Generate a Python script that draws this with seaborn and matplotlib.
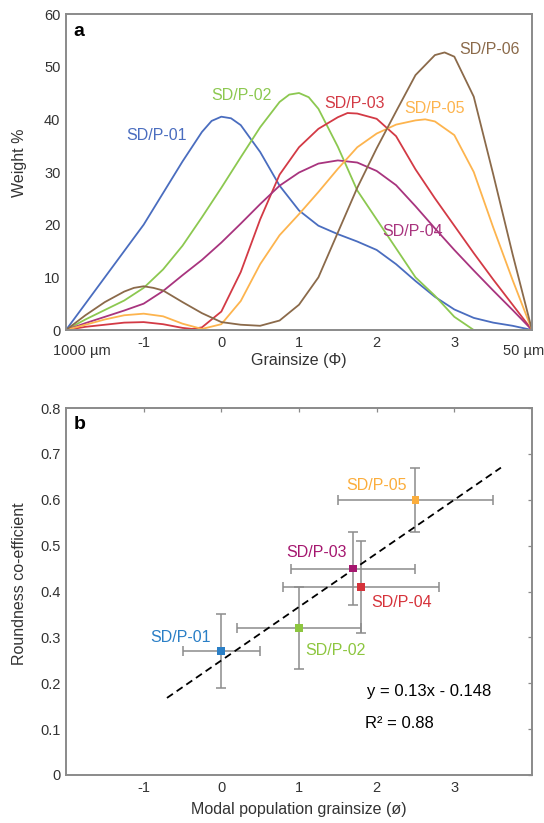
import numpy as np
import pandas as pd
import matplotlib
matplotlib.use("Agg")
import matplotlib.pyplot as plt
import matplotlib.transforms as mtransforms
import seaborn as sns

# panel a: grain size distributions, weight %
# (quarter-phi steps, plus a few extra readings around peaks and troughs)
phi_sdp01 = [-2, -1.75, -1.5, -1.25, -1, -0.75, -0.5, -0.25, -0.125, 0, 0.125, 0.25, 0.5, 0.75,
             1, 1.25, 1.5, 1.75, 2, 2.25, 2.5, 2.75, 3, 3.25, 3.5, 3.75, 4]
wt_sdp01 = [0, 5, 10, 15, 20, 26, 32, 37.6, 39.7, 40.5, 40.2, 38.9, 33.8, 27.4,
            22.7, 19.8, 18.2, 16.8, 15.2, 12.5, 9.3, 6.3, 3.9, 2.3, 1.4, 0.8, 0]
phi_sdp02 = [-2, -1.75, -1.5, -1.25, -1, -0.75, -0.5, -0.25, 0, 0.25, 0.5, 0.75, 0.875,
             1, 1.125, 1.25, 1.5, 1.75, 2, 2.25, 2.5, 2.75, 3, 3.25, 3.5, 3.75, 4]
wt_sdp02 = [0, 2, 3.8, 5.6, 8, 11.5, 16, 21.4, 27, 32.8, 38.5, 43.3, 44.7,
            45, 44.2, 42, 34.8, 26.5, 21, 15.5, 10, 6.5, 2.5, 0, 0, 0, 0]
phi_sdp03 = [-2, -1.75, -1.5, -1.25, -1, -0.75, -0.5, -0.375, -0.25, 0, 0.25, 0.5, 0.75,
             1, 1.25, 1.5, 1.625, 1.75, 2, 2.25, 2.5, 2.75, 3, 3.25, 3.5, 3.75, 4]
wt_sdp03 = [0, 0.6, 1.0, 1.4, 1.5, 1.1, 0.4, 0.2, 0.5, 3.5, 11, 21, 29.5,
            34.7, 38.2, 40.4, 41.2, 41.1, 40.1, 36.8, 30.5, 25, 19.8, 14.6, 9.6, 4.8, 0]
phi_sdp04 = [-2, -1.75, -1.5, -1.25, -1, -0.75, -0.5, -0.25, 0, 0.25, 0.5, 0.75,
             1, 1.25, 1.5, 1.75, 2, 2.25, 2.5, 2.75, 3, 3.25, 3.5, 3.75, 4]
wt_sdp04 = [0, 1.3, 2.5, 3.7, 5, 7.4, 10.4, 13.3, 16.6, 20.2, 23.9, 27.4,
            29.9, 31.6, 32.2, 31.8, 30.2, 27.5, 23.5, 19.3, 15.2, 11.3, 7.5, 3.8, 0]
phi_sdp05 = [-2, -1.75, -1.5, -1.25, -1, -0.75, -0.5, -0.25, 0, 0.25, 0.5, 0.75,
             1, 1.25, 1.5, 1.75, 2, 2.25, 2.5, 2.625, 2.75, 3, 3.25, 3.5, 3.75, 4]
wt_sdp05 = [0, 1.0, 2.0, 2.8, 3.1, 2.6, 1.2, 0.2, 1.1, 5.5, 12.5, 18,
            22, 26.2, 30.6, 34.7, 37.3, 39, 39.8, 40.0, 39.6, 37, 30, 19.5, 9.5, 0]
phi_sdp06 = [-2, -1.75, -1.5, -1.25, -1.125, -1, -0.875, -0.75, -0.5, -0.25, 0, 0.25, 0.5, 0.75,
             1, 1.25, 1.5, 1.75, 2, 2.25, 2.5, 2.75, 2.875, 3, 3.25, 3.5, 3.75, 4]
wt_sdp06 = [0, 2.8, 5.3, 7.3, 8.0, 8.3, 8.0, 7.5, 5.3, 3.2, 1.5, 1.0, 0.8, 1.8,
            4.8, 10, 18.5, 27, 34.5, 41.5, 48.4, 52.2, 52.7, 51.9, 44.3, 29.6, 14.4, 0]
curve_names = ["SD/P-01", "SD/P-02", "SD/P-03", "SD/P-04", "SD/P-05", "SD/P-06"]
curve_colors = ["#4a6dbf", "#8cc850", "#d33a45", "#a8347e", "#fdb44e", "#8b6a4a"]

# panel b: modal grainsize vs roundness
sample_names = ["SD/P-01", "SD/P-02", "SD/P-03", "SD/P-04", "SD/P-05"]
modal_phi = [0, 1, 1.7, 1.8, 2.5]
roundness = [0.27, 0.32, 0.45, 0.41, 0.60]
phi_err = [0.5, 0.8, 0.8, 1.0, 1.0]
round_err = [0.08, 0.09, 0.08, 0.10, 0.07]
point_colors = ["#2a7fc6", "#8dc63f", "#a5176f", "#d6333b", "#fbad3c"]
fit_phi = [-0.7, 3.6]
fit_round = [0.168, 0.67]

sns.set_style("white")
plt.rcParams['font.family'] = ['Liberation Sans', 'DejaVu Sans']
plt.rcParams['axes.unicode_minus'] = False

spine_col = '#8a8a8a'
text_col = '#333333'

fig = plt.figure(figsize=(5.44, 8.23), dpi=100)
ax_a = fig.add_axes([66/544, (823-330)/823, 466/544, 316/823])
ax_b = fig.add_axes([66/544, (823-775)/823, 466/544, 367/823])

def style_axes(ax, box_ticks=False):
   for sp in ax.spines.values():
      sp.set_color(spine_col)
      sp.set_linewidth(1.4)
   ax.tick_params(direction='in', length=3, width=0.9, color=spine_col,
                  labelcolor=text_col, labelsize=10.5, pad=4,
                  top=box_ticks, right=box_ticks)

# ---- panel a
all_phi = [phi_sdp01, phi_sdp02, phi_sdp03, phi_sdp04, phi_sdp05, phi_sdp06]
all_wt = [wt_sdp01, wt_sdp02, wt_sdp03, wt_sdp04, wt_sdp05, wt_sdp06]
long = []
for name, xs, vals in zip(curve_names, all_phi, all_wt):
   long.append(pd.DataFrame({'phi': xs, 'weight': vals, 'sample': name}))
dist = pd.concat(long, ignore_index=True)
sns.lineplot(data=dist, x='phi', y='weight', hue='sample',
             palette=dict(zip(curve_names, curve_colors)), linewidth=1.3,
             legend=False, ax=ax_a)
for ln in ax_a.lines:
   ln.set_solid_joinstyle('round')
ax_a.set_xlim(-2, 4)
ax_a.set_ylim(0, 60)
ax_a.set_xticks([-1, 0, 1, 2, 3])
ax_a.set_yticks(range(0, 61, 10))
style_axes(ax_a)
ax_a.set_xlabel('Grainsize (Φ)', fontsize=11.5, color=text_col)
ax_a.set_ylabel('Weight %', fontsize=11.5, color=text_col)
ax_a.xaxis.set_label_coords(0.5, -0.073)
ax_a.yaxis.set_label_coords(-0.083, 0.528)

trans = mtransforms.blended_transform_factory(ax_a.transData, ax_a.transAxes)
ax_a.text(-1.79, -0.066, '1000 µm', transform=trans, ha='center', va='center',
          fontsize=10.5, color=text_col, clip_on=False)
ax_a.text(3.89, -0.066, '50 µm', transform=trans, ha='center', va='center',
          fontsize=10.5, color=text_col, clip_on=False)

label_pos_a = [(-0.83, 37), (0.26, 44.6), (1.72, 43), (2.46, 18.7), (2.75, 42), (3.45, 53.3)]
for name, col, (lx, ly) in zip(curve_names, curve_colors, label_pos_a):
   ax_a.text(lx, ly, name, color=col, fontsize=11.5, ha='center', va='center')
ax_a.text(0.028, 0.946, 'a', transform=ax_a.transAxes, fontsize=14,
          fontweight='bold', ha='center', va='center', color='black')

# ---- panel b
ax_b.errorbar(modal_phi, roundness, xerr=phi_err, yerr=round_err, fmt='none',
              ecolor='#8c8c8c', elinewidth=1.1, capsize=3.5, capthick=1.1, zorder=2)
sns.lineplot(x=fit_phi, y=fit_round, color='black', linewidth=1.3,
             dashes=False, ax=ax_b, zorder=3)
ax_b.lines[-1].set_dashes((4, 2.5))
sns.scatterplot(x=modal_phi, y=roundness, hue=sample_names,
                palette=dict(zip(sample_names, point_colors)), marker='s', s=32,
                edgecolor='none', legend=False, ax=ax_b, zorder=4)
ax_b.set_xlim(-2, 4)
ax_b.set_ylim(0, 0.8)
ax_b.set_xticks([-1, 0, 1, 2, 3])
ax_b.set_yticks(np.arange(0, 0.81, 0.1))
ax_b.set_yticklabels(['0', '0.1', '0.2', '0.3', '0.4', '0.5', '0.6', '0.7', '0.8'])
style_axes(ax_b, box_ticks=True)
ax_b.set_xlabel('Modal population grainsize (ø)', fontsize=11.5, color=text_col)
ax_b.set_ylabel('Roundness co-efficient', fontsize=11.5, color=text_col)
ax_b.xaxis.set_label_coords(0.5, -0.074)
ax_b.yaxis.set_label_coords(-0.083, 0.52)

label_pos_b = [(-0.52, 0.30), (1.47, 0.271), (1.22, 0.486), (2.32, 0.375), (2.0, 0.632)]
for name, col, (lx, ly) in zip(sample_names, point_colors, label_pos_b):
   ax_b.text(lx, ly, name, color=col, fontsize=11.5, ha='center', va='center')
ax_b.text(1.87, 0.181, 'y = 0.13x - 0.148', fontsize=12, color='black', ha='left', va='center')
ax_b.text(1.85, 0.112, 'R² = 0.88', fontsize=12, color='black', ha='left', va='center')
ax_b.text(0.03, 0.954, 'b', transform=ax_b.transAxes, fontsize=14,
          fontweight='bold', ha='center', va='center', color='black')

fig.savefig('out.png', dpi=100)
